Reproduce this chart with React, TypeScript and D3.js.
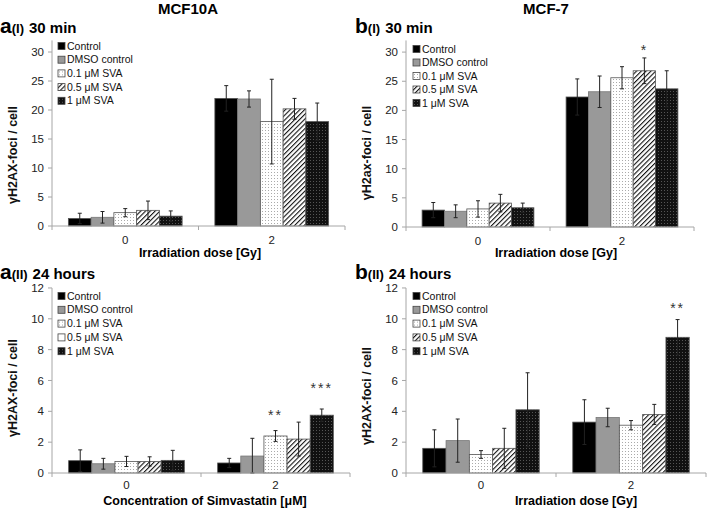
import React from 'react';
import * as d3 from 'd3';

const categories = ['0', '2'];
const series = ['Control', 'DMSO control', '0.1 μM SVA', '0.5 μM SVA', '1 μM SVA'];

// a(I) MCF10A 30 min
const a1Means = [[1.3, 1.5, 2.3, 2.7, 1.7], [22.0, 21.9, 18.0, 20.2, 18.0]];
const a1Errors = [[0.9, 1.0, 0.7, 1.6, 0.9], [2.2, 1.4, 7.3, 1.8, 3.2]];
// b(I) MCF-7 30 min
const b1Means = [[2.9, 2.7, 3.1, 4.1, 3.3], [22.3, 23.2, 25.6, 26.8, 23.7]];
const b1Errors = [[1.3, 1.1, 1.4, 1.5, 0.8], [3.1, 2.7, 1.9, 2.2, 3.1]];
// a(II) MCF10A 24 hours
const a2Means = [[0.8, 0.6, 0.75, 0.75, 0.82], [0.65, 1.1, 2.4, 2.2, 3.75]];
const a2Errors = [[0.7, 0.35, 0.33, 0.3, 0.65], [0.3, 1.15, 0.35, 1.1, 0.4]];
// b(II) MCF-7 24 hours
const b2Means = [[1.6, 2.1, 1.2, 1.6, 4.1], [3.3, 3.6, 3.1, 3.8, 8.8]];
const b2Errors = [[1.2, 1.4, 0.25, 1.3, 2.4], [1.45, 0.6, 0.3, 0.65, 1.15]];

const b1Stars = [{ cat: '2', s: 3, label: '*', at: 30.4 }];
const a2Stars = [{ cat: '2', s: 2, label: '**', at: 3.75 }, { cat: '2', s: 4, label: '***', at: 5.5 }];
const b2Stars = [{ cat: '2', s: 4, label: '**', at: 10.7 }];

const fills = ['#000', '#999', 'url(#dots)', 'url(#hatch)', 'url(#darkdots)'];
const axisColor = '#a6a6a6';
const font = 'Arial, "Liberation Sans", sans-serif';

type Star = { cat: string; s: number; label: string; at: number };

const Panel = ({ x0, x1, y0, pxPerUnit, yMax, step, means, errors, stars, legendX, legendY, legendGap, legendFills, tickGap }: any) => {
  const x = d3.scaleBand().domain(categories).range([x0, x1]);
  const inner = d3.scaleBand().domain(series).range([0, x.bandwidth()]).paddingOuter(0.72);
  const y = d3.scaleLinear().domain([0, yMax]).range([y0, y0 - yMax * pxPerUnit]);
  const ticks = d3.range(0, Math.floor(yMax) + 0.001, step);

  return (
    <g>
      {/* y axis */}
      <line x1={x0} x2={x0} y1={y(0)} y2={y(yMax)} stroke={axisColor} />
      {ticks.map((t) => (
        <g key={t}>
          <line x1={x0 - 4} x2={x0} y1={y(t)} y2={y(t)} stroke={axisColor} />
          <text x={x0 - 8} y={y(t)} dy="0.35em" textAnchor="end" fontSize={11.5} fill="#222">{t}</text>
        </g>
      ))}
      {/* bars */}
      {categories.map((c, ci) =>
        series.map((s, si) => {
          const bx = x(c)! + inner(s)!;
          const bw = inner.bandwidth();
          return (
            <rect key={c + s} x={bx} y={y(means[ci][si])} width={bw} height={y(0) - y(means[ci][si])}
              fill={fills[si]} stroke={si === 1 ? '#777' : '#555'} strokeWidth={0.8} />
          );
        })
      )}
      {/* error bars */}
      {categories.map((c, ci) =>
        series.map((s, si) => {
          const cx = x(c)! + inner(s)! + inner.bandwidth() / 2;
          const lo = y(Math.max(0, means[ci][si] - errors[ci][si]));
          const hi = y(means[ci][si] + errors[ci][si]);
          return (
            <g key={'e' + c + s} stroke="#222" strokeWidth={1}>
              <line x1={cx} x2={cx} y1={lo} y2={hi} />
              <line x1={cx - 2} x2={cx + 2} y1={hi} y2={hi} />
              <line x1={cx - 2} x2={cx + 2} y1={lo} y2={lo} />
            </g>
          );
        })
      )}
      {/* x axis */}
      <line x1={x0} x2={x1} y1={y0} y2={y0} stroke={axisColor} />
      {[x0, (x0 + x1) / 2, x1].map((t) => (
        <line key={t} x1={t} x2={t} y1={y0} y2={y0 + 4} stroke={axisColor} />
      ))}
      {categories.map((c) => (
        <text key={c} x={x(c)! + x.bandwidth() / 2} y={y0 + tickGap} dy="0.35em" textAnchor="middle" fontSize={11.5} fill="#222">{c}</text>
      ))}
      {/* significance */}
      {(stars || []).map((st: Star) => (
        <text key={st.label + st.s} x={x(st.cat)! + inner(series[st.s])! + inner.bandwidth() / 2} y={y(st.at)} dy="0.35em"
          textAnchor="middle" fontSize={14} fill="#333" letterSpacing={2}>{st.label}</text>
      ))}
      {/* legend */}
      {series.map((s, i) => (
        <g key={'l' + s} transform={`translate(${legendX},${legendY + i * legendGap})`}>
          <rect x={0} y={-3.5} width={7} height={7} fill={legendFills[i]} stroke="#444" strokeWidth={0.8} />
          <text x={9} y={0} dy="0.35em" fontSize={10.5} fill="#111">{s}</text>
        </g>
      ))}
    </g>
  );
};

const PanelLabel = ({ x, y, letter, roman, text }: any) => (
  <text x={x} y={y} fontWeight="bold" fill="#000">
    <tspan fontSize={21}>{letter}</tspan>
    <tspan fontSize={13}>({roman})</tspan>
    <tspan fontSize={15} dx={5}>{text}</tspan>
  </text>
);

const YLabel = ({ x, y, text }: any) => (
  <text transform={`translate(${x},${y}) rotate(-90)`} textAnchor="middle" dy="0.35em" fontSize={12.5} fontWeight="bold" fill="#111">{text}</text>
);

const App = () => {
  const legendA2 = ['#000', '#999', 'url(#dots)', '#fff', 'url(#darkdots)'];
  return (
    <svg width={708} height={508} style={{ position: 'absolute', left: 0, top: 0, fontFamily: font }}>
      <defs>
        <pattern id="dots" width={3} height={3} patternUnits="userSpaceOnUse">
          <rect width={3} height={3} fill="#fff" />
          <rect x={1} y={1} width={1} height={1} fill="#aaa" />
        </pattern>
        <pattern id="hatch" width={3.4} height={3.4} patternUnits="userSpaceOnUse" patternTransform="rotate(45)">
          <rect width={3.4} height={3.4} fill="#fff" />
          <line x1={0} y1={0} x2={0} y2={3.4} stroke="#111" strokeWidth={2.2} />
        </pattern>
        <pattern id="darkdots" width={3} height={3} patternUnits="userSpaceOnUse">
          <rect width={3} height={3} fill="#111" />
          <rect x={1} y={1} width={1} height={1} fill="#555" />
        </pattern>
      </defs>
      <rect width={708} height={508} fill="#fff" />

      <text x={188} y={14} textAnchor="middle" fontSize={15} fontWeight="bold">MCF10A</text>
      <text x={546} y={14} textAnchor="middle" fontSize={15} fontWeight="bold">MCF-7</text>

      <PanelLabel x={0} y={33} letter="a" roman="I" text="30 min" />
      <PanelLabel x={355} y={33} letter="b" roman="I" text="30 min" />
      <PanelLabel x={0} y={279} letter="a" roman="II" text="24 hours" />
      <PanelLabel x={355} y={279} letter="b" roman="II" text="24 hours" />

      <YLabel x={13} y={155} text="γH2AX-foci / cell" />
      <YLabel x={367} y={153} text="γH2ax-foci /  cell" />
      <YLabel x={13} y={388} text="γH2AX-foci / cell" />
      <YLabel x={367} y={396} text="γH2AX-foci / cell" />

      <text x={200} y={253} dy="0.35em" textAnchor="middle" fontSize={12.5} fontWeight="bold">Irradiation dose [Gy]</text>
      <text x={556} y={253} dy="0.35em" textAnchor="middle" fontSize={12.5} fontWeight="bold">Irradiation dose [Gy]</text>
      <text x={205} y={501} dy="0.35em" textAnchor="middle" fontSize={12.5} fontWeight="bold">Concentration of Simvastatin [μM]</text>
      <text x={576} y={501} dy="0.35em" textAnchor="middle" fontSize={12.5} fontWeight="bold">Irradiation dose [Gy]</text>

      <Panel x0={52} x1={345} y0={226} pxPerUnit={5.8} yMax={32} step={5} means={a1Means} errors={a1Errors} tickGap={14}
        legendX={58} legendY={46} legendGap={13.7} legendFills={fills} />
      <Panel x0={406} x1={694} y0={227} pxPerUnit={5.83} yMax={32} step={5} means={b1Means} errors={b1Errors} stars={b1Stars} tickGap={14}
        legendX={413} legendY={49} legendGap={13.5} legendFills={fills} />
      <Panel x0={52} x1={350} y0={473} pxPerUnit={15.42} yMax={12} step={2} means={a2Means} errors={a2Errors} stars={a2Stars} tickGap={12}
        legendX={58} legendY={296} legendGap={13.8} legendFills={legendA2} />
      <Panel x0={406} x1={706} y0={473} pxPerUnit={15.42} yMax={12} step={2} means={b2Means} errors={b2Errors} stars={b2Stars} tickGap={12}
        legendX={413} legendY={296} legendGap={13.8} legendFills={fills} />
    </svg>
  );
};

export default App;
